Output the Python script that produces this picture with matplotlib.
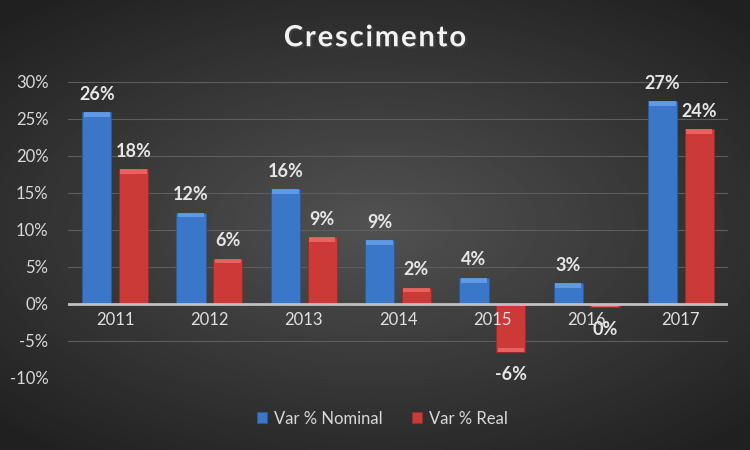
import numpy as np
import matplotlib
matplotlib.use('Agg')
import matplotlib.pyplot as plt
import matplotlib.patheffects as pe

anos = ['2011', '2012', '2013', '2014', '2015', '2016', '2017']
nominal = [25.9, 12.3, 15.5, 8.6, 3.5, 2.8, 27.4]
real = [18.2, 6.1, 9.0, 2.2, -6.5, -0.4, 23.6]
rot_nominal = ['26%', '12%', '16%', '9%', '4%', '3%', '27%']
rot_real = ['18%', '6%', '9%', '2%', '-6%', '0%', '24%']
yticks = [-10, -5, 0, 5, 10, 15, 20, 25, 30]

plt.rcParams['font.family'] = ['Lato', 'DejaVu Sans']

fig = plt.figure(figsize=(7.5, 4.5), dpi=100)

# fundo com gradiente radial
bg = fig.add_axes([0, 0, 1, 1])
yy, xx = np.mgrid[-1:1:300j, -1:1:500j]
r = np.sqrt(xx**2 * 0.8 + yy**2)
bg.imshow(0.32 - 0.15 * np.clip(r, 0, 1.3), cmap='gray', vmin=0, vmax=1,
          aspect='auto', extent=[0, 1, 0, 1])
bg.axis('off')

ax = fig.add_axes([0.0907, 0.16, 0.88, 0.6578])
ax.patch.set_alpha(0)

x = np.arange(len(anos))
w = 0.31
off = 0.195
azul, azul_topo = '#3a77c9', '#6aa4ee'
verm, verm_topo = '#cc3a38', '#f06e6a'

b1 = ax.bar(x - off, nominal, w, color=azul, edgecolor='#2a5a9c', linewidth=0.6, zorder=3)
b2 = ax.bar(x + off, real, w, color=verm, edgecolor='#9c2a2a', linewidth=0.6, zorder=3)
# faixa clara no topo (efeito bisel)
for xs, vals, c in [(x - off, nominal, azul_topo), (x + off, real, verm_topo)]:
    vals = np.array(vals)
    h = np.sign(vals) * np.minimum(np.abs(vals), 0.6)
    ax.bar(xs, -h, w * 0.9, bottom=vals, color=c, linewidth=0, zorder=4, alpha=0.8)

estilo = dict(textcoords='offset points', ha='center', color='#e6e6e6',
              fontsize=13, fontweight='bold')
for xi, v, t in zip(x - off, nominal, rot_nominal):
    ax.annotate(t, (xi, v), xytext=(0, 7), va='bottom', **estilo)
for xi, v, t in zip(x + off, real, rot_real):
    if v >= 0:
        ax.annotate(t, (xi, v), xytext=(0, 7), va='bottom', **estilo)
    else:
        ax.annotate(t, (xi, v), xytext=(0, -10), va='top', **estilo)

# rótulos das categorias junto ao eixo zero
for xi, a in zip(x, anos):
    ax.text(xi, -2.2, a, ha='center', va='center', color='#e0e0e0', fontsize=12, zorder=5)

ax.set_ylim(-10, 30)
ax.set_xlim(-0.5, len(anos) - 0.5)
ax.set_yticks(yticks)
ax.set_yticklabels([f'{t}%' for t in yticks], color='#d9d9d9', fontsize=12)
ax.set_xticks([])
ax.tick_params(axis='y', length=0, pad=14)
ax.grid(axis='y', color='#5e5e5e', linewidth=0.8, zorder=0)
ax.axhline(0, color='#c0c0c0', linewidth=2, zorder=5)
for s in ax.spines.values():
    s.set_visible(False)

fig.text(0.5, 0.915, 'C r e s c i m e n t o'.replace(' ', '\u200a'), ha='center',
         va='center', color='#f2f2f2', fontsize=21, fontweight='bold',
         path_effects=[pe.withSimplePatchShadow(offset=(1.5, -1.5), alpha=0.5)])

leg = fig.legend([b1, b2], ['Var % Nominal', 'Var % Real'], loc='center',
                 bbox_to_anchor=(0.51, 0.07), ncol=2, frameon=False, fontsize=12,
                 handlelength=0.6, handleheight=0.6, handletextpad=0.4, columnspacing=1.8)
for t in leg.get_texts():
    t.set_color('#d9d9d9')

fig.savefig('out.png', dpi=100)
